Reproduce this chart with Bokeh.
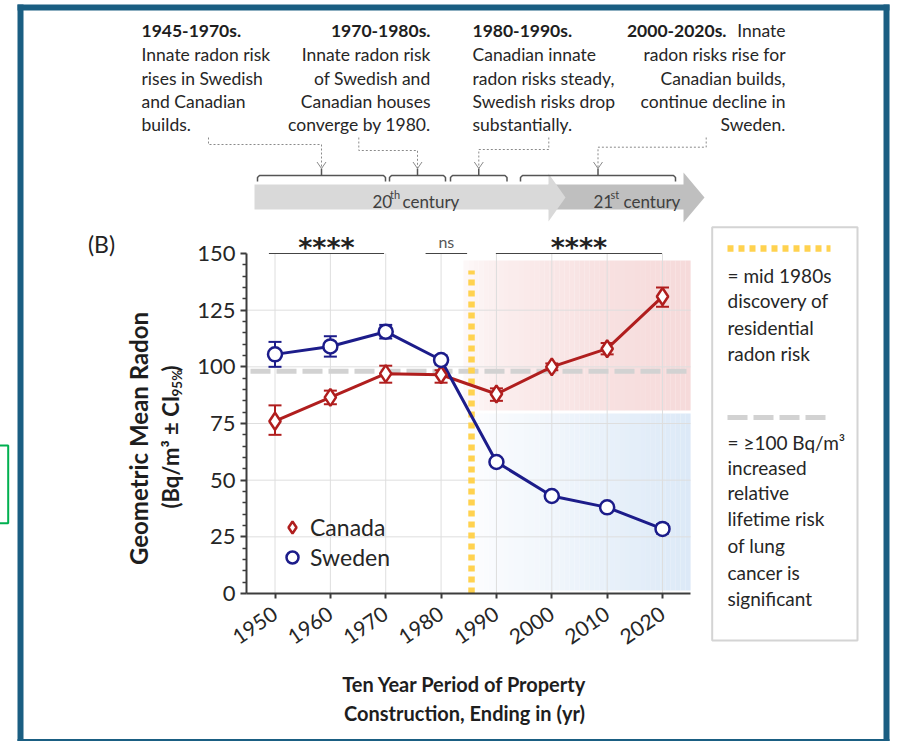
import math
from bokeh.plotting import figure
from bokeh.models import (Range1d, FixedTicker, Whisker, TeeHead,
                          ColumnDataSource, Legend, LegendItem)
from bokeh.core.properties import value
from bokeh.embed import file_html
from bokeh.resources import INLINE

# ---------------- data ----------------
years = [1950, 1960, 1970, 1980, 1990, 2000, 2010, 2020]
canada_gm = [76, 86.5, 97, 96.5, 88, 100, 108, 131]
canada_lo = [70, 83.5, 93, 93, 85, 98.5, 105.5, 126.5]
canada_hi = [83, 89.5, 100.5, 98.5, 90.5, 101.5, 110.5, 135]
sweden_gm = [105.5, 109, 115.5, 103, 58, 43, 38, 28.5]
sweden_lo = [100, 104.5, 112.5, 101, 56.5, 41.5, 36.5, 26.5]
sweden_hi = [111, 113.5, 118.5, 105, 59.5, 44.5, 39.5, 30.5]

x_ticks = years
y_ticks = [0, 25, 50, 75, 100, 125, 150]
y_minor_ticks = [5, 10, 15, 20, 30, 35, 40, 45, 55, 60, 65, 70, 80, 85, 90, 95,
                 105, 110, 115, 120, 130, 135, 140, 145]
risk_threshold = 98          # drawn "≥100 Bq/m3" reference line
discovery_year = 1985.5      # mid-1980s discovery
sig_start = [1948.9, 1977.2, 1989.9]
sig_end = [1969.7, 1984.7, 2019.9]
sig_level = [150, 150, 150]
sig_labels = ["****", "ns", "****"]

# ---------------- geometry helpers (reference pixel -> data) ----------------
W, H = 897, 741
PX_1950, PX_PER_YR = 274.5, 5.536
PX_ZERO, PX_PER_U = 593.0, 2.2667
FRAME_L, FRAME_B = 246, 593
AXIS_R = 690


def X(px):
    return 1950 + (px - PX_1950) / PX_PER_YR


def Y(py):
    return (PX_ZERO - py) / PX_PER_U


FONT = "Lato"
TXT = "#262626"
DARK = "#1e1e1e"
RED = "#b01e1e"
BLUE = "#1c1c8a"
FRAME_BLUE = "#1a5e82"

p = figure(width=W, height=H, output_backend="svg", toolbar_location=None,
           x_range=Range1d(X(FRAME_L), X(W)), y_range=Range1d(Y(FRAME_B), Y(0)),
           min_border_left=FRAME_L, min_border_right=0, min_border_top=0,
           min_border_bottom=H - FRAME_B)
p.outline_line_color = None
p.xgrid.visible = False
p.ygrid.visible = False
p.background_fill_color = "white"
p.border_fill_color = "white"

# axes
xa = p.xaxis[0]
xa.ticker = FixedTicker(ticks=x_ticks, minor_ticks=[])
xa.bounds = (X(FRAME_L), X(AXIS_R))
xa.axis_line_width = 2
xa.axis_line_color = "#3c3c3c"
xa.major_tick_out = 5
xa.major_tick_in = 0
xa.major_tick_line_width = 2
xa.major_tick_line_color = "#3c3c3c"
xa.minor_tick_out = 0
xa.minor_tick_in = 0
xa.major_label_orientation = 0.6
xa.major_label_text_font = FONT
xa.major_label_text_font_size = "21px"
xa.major_label_text_color = TXT
xa.major_label_standoff = 13

ya = p.yaxis[0]
ya.ticker = FixedTicker(ticks=y_ticks, minor_ticks=y_minor_ticks)
ya.bounds = (0, 150)
ya.axis_line_width = 2
ya.axis_line_color = "#3c3c3c"
ya.major_tick_out = 6
ya.major_tick_in = 0
ya.major_tick_line_width = 2
ya.major_tick_line_color = "#3c3c3c"
ya.minor_tick_out = 4
ya.minor_tick_in = 0
ya.minor_tick_line_width = 1.5
ya.minor_tick_line_color = "#3c3c3c"
ya.major_label_text_font = FONT
ya.major_label_text_font_size = "22px"
ya.major_label_text_color = TXT
ya.major_label_standoff = 5


# ---------------- shaded zones (gradients) ----------------
def blend(rgb, t):
    return "#%02x%02x%02x" % tuple(round(255 - (255 - c) * t) for c in rgb)


def gradient(x0, x1, y0, y1, rgb, tfun, n=45):
    lefts, rights, cols = [], [], []
    for i in range(n):
        s = (i + 0.5) / n
        lefts.append(x0 + (x1 - x0) * i / n)
        rights.append(x0 + (x1 - x0) * (i + 1) / n + 0.02)
        cols.append(blend(rgb, tfun(s)))
    p.quad(left=lefts, right=rights, bottom=[y0] * n, top=[y1] * n,
           fill_color=cols, line_color=None, level="image")


gradient(X(463), X(AXIS_R), Y(410), Y(260), (246, 218, 218), lambda s: 0.08 + 0.92 * min(1, s ** 0.5))
gradient(X(463), X(AXIS_R), Y(590), Y(413), (220, 233, 247), lambda s: 0.05 + 0.95 * s)

# grid
p.segment(x0=x_ticks, y0=[0] * len(x_ticks), x1=x_ticks, y1=[150] * len(x_ticks),
          line_color="#dedede", line_width=1, level="image")
inner_y = y_ticks[1:-1]
p.segment(x0=[X(FRAME_L)] * len(inner_y), y0=inner_y, x1=[X(AXIS_R)] * len(inner_y), y1=inner_y,
          line_color="#dedede", line_width=1, level="image")

# reference lines
p.segment(x0=[X(250)], y0=[risk_threshold], x1=[X(AXIS_R)], y1=[risk_threshold],
          line_color="#d2d2d2", line_width=5, line_dash="20 6", level="underlay")
p.segment(x0=[discovery_year], y0=[0], x1=[discovery_year], y1=[Y(270)],
          line_color="#ffd24f", line_width=6.5, line_dash="6 5", level="underlay")

# significance bars
p.segment(x0=sig_start, y0=sig_level, x1=sig_end, y1=sig_level, line_color="#444444", line_width=1.2)

# ---------------- series ----------------
src_c = ColumnDataSource(dict(x=years, y=canada_gm, lo=canada_lo, hi=canada_hi))
src_s = ColumnDataSource(dict(x=years, y=sweden_gm, lo=sweden_lo, hi=sweden_hi))
for src, col in ((src_c, RED), (src_s, BLUE)):
    p.add_layout(Whisker(base="x", upper="hi", lower="lo", source=src, line_color=col, line_width=2,
                         upper_head=TeeHead(size=13, line_color=col, line_width=2),
                         lower_head=TeeHead(size=13, line_color=col, line_width=2),
                         level="underlay"))
p.line("x", "y", source=src_c, line_color=RED, line_width=3)
p.line("x", "y", source=src_s, line_color=BLUE, line_width=3)
rc = p.scatter("x", "y", source=src_c, marker="diamond", size=17, fill_color="white",
               line_color=RED, line_width=2.5)
rs = p.scatter("x", "y", source=src_s, marker="circle", size=14, fill_color="white",
               line_color=BLUE, line_width=2.5)

legend = Legend(items=[LegendItem(label="Canada", renderers=[rc]),
                       LegendItem(label="Sweden", renderers=[rs])],
                location=(30, 21), margin=0, padding=0, spacing=0,
                glyph_width=32, glyph_height=30, label_standoff=2, label_height=30,
                label_text_font=FONT, label_text_font_size="23px", label_text_color=TXT,
                background_fill_alpha=0, border_line_alpha=0)
p.add_layout(legend)


# ---------------- text / decoration helpers (overlay level: not clipped) ----------------
def text_at(xd, yd, text, size, bold=False, align="left", baseline="alphabetic",
            color=TXT, angle=0, font=FONT):
    p.text(x=[xd], y=[yd], text=[text], text_font=value(font),
           text_font_size=value(f"{size}px"),
           text_font_style=value("bold" if bold else "normal"),
           text_align=value(align), text_baseline=value(baseline),
           text_color=value(color), angle=angle, level="overlay")


def label(px, py, text, size, **kw):
    text_at(X(px), Y(py), text, size, **kw)


def deco(xs, ys, color="#555555", width=1.5, dash="solid"):
    p.line([X(v) for v in xs], [Y(v) for v in ys], line_color=color, line_width=width,
           line_dash=dash, level="overlay")


# significance labels
for x0, x1, lab in zip(sig_start, sig_end, sig_labels):
    xc = (x0 + x1) / 2
    if lab == "ns":
        text_at(xc, Y(241), lab, 16, align="center", color="#555555")
    else:
        text_at(xc, Y(247), lab, 27, bold=True, align="center", color="#222222",
                font="DejaVu Sans")

# (B) panel tag
label(101, 243, "(B)", 23, align="center", baseline="middle", color="#222222")

# y axis title (two lines, rotated)
label(138, 438, "Geometric Mean Radon", 24, bold=True, align="center", baseline="middle",
      color=DARK, angle=math.pi / 2)
label(170, 508, "(Bq/m³ ± CI", 22, bold=True, baseline="middle", color=DARK, angle=math.pi / 2)
label(176, 396, "95%", 13.5, bold=True, baseline="middle", color=DARK, angle=math.pi / 2)
label(170, 371, ")", 22, bold=True, baseline="middle", color=DARK, angle=math.pi / 2)

# x axis title
label(464, 683, "Ten Year Period of Property", 20, bold=True, align="center", baseline="middle",
      color=DARK)
label(464, 712, "Construction, Ending in (yr)", 20, bold=True, align="center", baseline="middle",
      color=DARK)

# ---------------- timeline at top ----------------
p.patch([X(v) for v in (548, 683, 683, 704, 683, 683, 548)],
        [Y(v) for v in (184, 184, 172, 197, 222, 209, 209)],
        fill_color="#bfbfbf", line_color=None, level="overlay")
p.patch([X(v) for v in (254, 548, 548, 565, 548, 548, 254)],
        [Y(v) for v in (184, 184, 173, 197, 221, 209, 209)],
        fill_color="#d9d9d9", line_color=None, level="overlay")
label(372, 201, "20", 17, color="#404040")
label(389.5, 194, "th", 11, color="#404040")
label(402, 201, "century", 17, color="#404040")
label(593, 201, "21", 17, color="#404040")
label(610, 194, "st", 11, color="#404040")
label(623, 201, "century", 17, color="#404040")

brackets = [(257, 385), (389, 445), (450, 506.5), (520, 675)]
for b0, b1 in brackets:
    deco([b0, b0, b0 + 2, b1 - 2, b1, b1], [181, 177, 175, 175, 177, 181])
    xc = (b0 + b1) / 2
    deco([xc, xc], [168, 175])

connectors = [(208, 144, 321), (358.3, 150, 417), (548.3, 149, 478.3), (705.7, 146.7, 597.5)]
for sx, hy, tx in connectors:
    deco([sx, sx, tx, tx], [137, hy, hy, 167.5], color="#8a8a8a", width=1, dash="2 2")
    deco([tx - 4.5, tx, tx + 4.5], [161.5, 168, 161.5], color="#8a8a8a", width=1)

# top text blocks
baselines = [30, 54.3, 77.6, 101, 124.3]
blocks = [
    (141, "left", ["1945-1970s.", "Innate radon risk", "rises in Swedish", "and Canadian", "builds."]),
    (430, "right", ["1970-1980s.", "Innate radon risk", "of Swedish and", "Canadian houses",
                    "converge by 1980."]),
    (472, "left", ["1980-1990s.", "Canadian innate", "radon risks steady,", "Swedish risks drop",
                   "substantially."]),
    (785, "right", [None, "radon risks rise for", "Canadian builds,", "continue decline in",
                    "Sweden."]),
]
for bx, al, lines in blocks:
    for i, (ln, by) in enumerate(zip(lines, baselines)):
        if ln is None:
            continue
        label(bx, by, ln, 17.5, bold=(i == 0), align=al, color=DARK if i == 0 else TXT)
label(785, 30, "Innate", 17.5, align="right")
label(726, 30, "2000-2020s.", 17.5, bold=True, align="right", color=DARK)

# ---------------- key box on the right ----------------
p.quad(left=[X(711.7)], right=[X(857)], top=[Y(226.7)], bottom=[Y(640)], fill_alpha=0,
       line_color="#d4d4d4", line_width=2, level="overlay")
deco([727, 830], [248, 248], color="#ffd24f", width=6.5, dash="6 5")
deco([727, 830], [417, 417], color="#d2d2d2", width=5, dash="20 6")
key1 = ["= mid 1980s", "discovery of", "residential", "radon risk"]
key1_y = [275, 300, 326.5, 352.5]
key2 = ["= ≥100 Bq/m³", "increased", "relative", "lifetime risk", "of lung", "cancer is", "significant"]
key2_y = [441.7, 466.7, 492, 518.3, 545, 571.7, 598.3]
for t, yy in zip(key1 + key2, key1_y + key2_y):
    label(727, yy, t, 19, baseline="middle")

# ---------------- outer frame & side marker ----------------
for l, r, t, b in ((17, 889, 4, 10), (883, 889, 4, 741), (17, 23, 4, 741), (17, 889, 738.5, 745)):
    p.quad(left=[X(l)], right=[X(r)], top=[Y(t)], bottom=[Y(b)], fill_color=FRAME_BLUE,
           line_color=None, level="overlay")
p.quad(left=[X(-10)], right=[X(7.7)], top=[Y(445)], bottom=[Y(522.7)], fill_alpha=0,
       line_color="#00b050", line_width=2, level="overlay")

open("out.html", "w").write(file_html(p, INLINE))
